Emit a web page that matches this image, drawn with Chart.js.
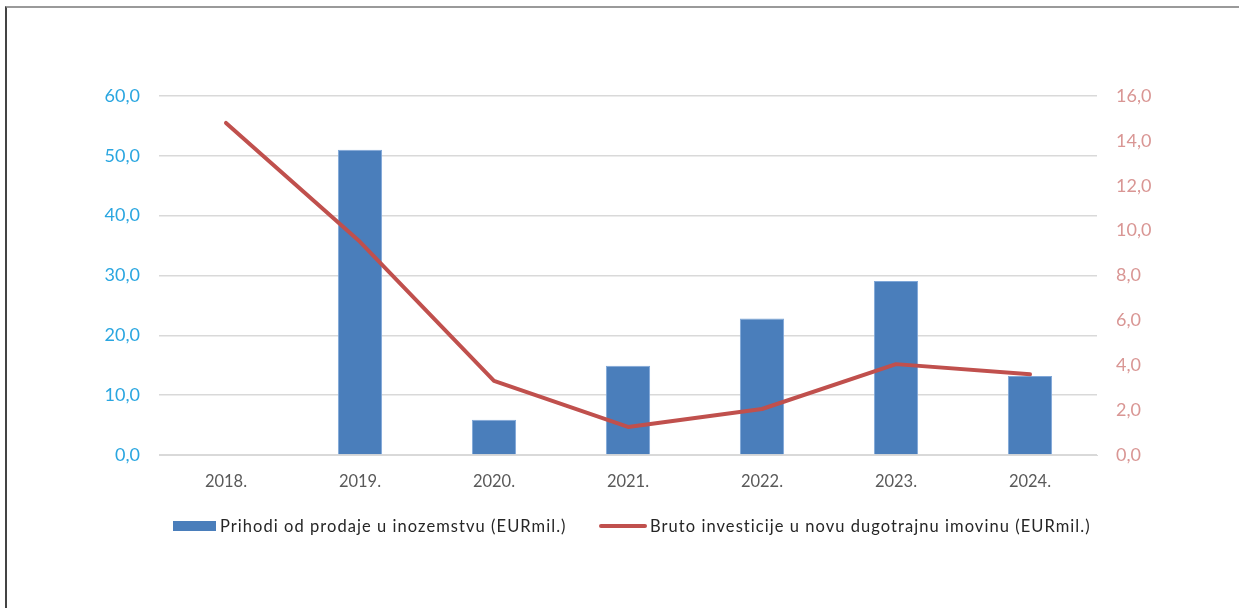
<!DOCTYPE html>
<html>
<head>
<meta charset="utf-8">
<script src="https://cdn.jsdelivr.net/npm/chart.js@4"></script>
<style>
  html, body { margin: 0; padding: 0; background: #fff; }
  #wrap { position: relative; width: 1239px; height: 608px; overflow: hidden; background: #fff; }
  #frame { position: absolute; left: 5px; top: 6px; width: 1300px; height: 700px; border-top: 2px solid #9a9a9a; border-left: 2px solid #444; }
  canvas { position: absolute; left: 0; top: 0; }
  .leg { position: absolute; font-family: Lato, "Open Sans", sans-serif; font-size: 16.5px; letter-spacing: 1.05px; color: #262626; white-space: nowrap; line-height: 20px; }
  .sw { position: absolute; }
</style>
</head>
<body>
<div id="wrap">
  <div id="frame"></div>
  <canvas id="c" width="1239" height="608"></canvas>
  <div class="sw" id="sw1" style="left:173px; top:521px; width:43px; height:10px; background:#4A7EBB;"></div>
  <div class="leg" id="t1" style="left:220px; top:516px;"></div>
  <div class="sw" id="sw2" style="left:599px; top:524px; width:48px; height:4px; background:#C0504D; border-radius:2px;"></div>
  <div class="leg" id="t2" style="left:650px; top:516px;"></div>
</div>
<script>
const categories = ["2018.", "2019.", "2020.", "2021.", "2022.", "2023.", "2024."];
const salesAbroad = [null, 51.0, 5.9, 14.9, 22.8, 29.1, 13.2];
const grossInvestment = [14.8, 9.5, 3.3, 1.25, 2.05, 4.05, 3.6];
const seriesNames = ["Prihodi od prodaje u inozemstvu (EURmil.)", "Bruto investicije u novu dugotrajnu imovinu (EURmil.)"];
const leftTicks = [0, 10, 20, 30, 40, 50, 60];
const rightTicks = [0, 2, 4, 6, 8, 10, 12, 14, 16];

document.getElementById('t1').textContent = seriesNames[0];
document.getElementById('t2').textContent = seriesNames[1];

const fmt = v => Number(v).toFixed(1).replace('.', ',');
const FONT = "Lato, 'Open Sans', sans-serif";

new Chart(document.getElementById('c'), {
  data: {
    labels: categories,
    datasets: [
      {
        type: 'line',
        label: seriesNames[1],
        data: grossInvestment,
        yAxisID: 'y1',
        borderColor: '#C0504D',
        backgroundColor: '#C0504D',
        borderWidth: 4,
        pointRadius: 0,
        tension: 0,
        borderCapStyle: 'round',
        borderJoinStyle: 'round',
        order: 0
      },
      {
        type: 'bar',
        label: seriesNames[0],
        data: salesAbroad,
        yAxisID: 'y',
        backgroundColor: '#4A7EBB',
        borderColor: '#7FA7D8',
        borderWidth: 1,
        barPercentage: 0.33,
        categoryPercentage: 1.0,
        order: 1
      }
    ]
  },
  options: {
    responsive: false,
    animation: false,
    layout: { padding: { top: 96, left: 0, right: 0, bottom: 0 } },
    plugins: { legend: { display: false }, tooltip: { enabled: false } },
    scales: {
      x: {
        grid: { display: false, drawTicks: false },
        border: { display: true, color: '#D9D9D9', width: 1 },
        ticks: { color: '#595959', font: { family: FONT, size: 16.5 }, padding: 17, maxRotation: 0 },
        afterFit: s => { s.height = 153; }
      },
      y: {
        position: 'left',
        min: 0, max: 60,
        afterBuildTicks: s => { s.ticks = leftTicks.map(v => ({ value: v })); },
        grid: { color: '#D9D9D9', lineWidth: 1.5, drawTicks: false },
        border: { display: false },
        ticks: { color: '#2AA6E0', font: { family: FONT, size: 18 }, padding: 19, callback: v => fmt(v) },
        afterFit: s => { s.width = 159; }
      },
      y1: {
        position: 'right',
        min: 0, max: 16,
        afterBuildTicks: s => { s.ticks = rightTicks.map(v => ({ value: v })); },
        grid: { drawOnChartArea: false, drawTicks: false },
        border: { display: false },
        ticks: { color: '#D99694', font: { family: FONT, size: 18 }, padding: 19, callback: v => fmt(v) },
        afterFit: s => { s.width = 142; }
      }
    }
  }
});
</script>
</body>
</html>
